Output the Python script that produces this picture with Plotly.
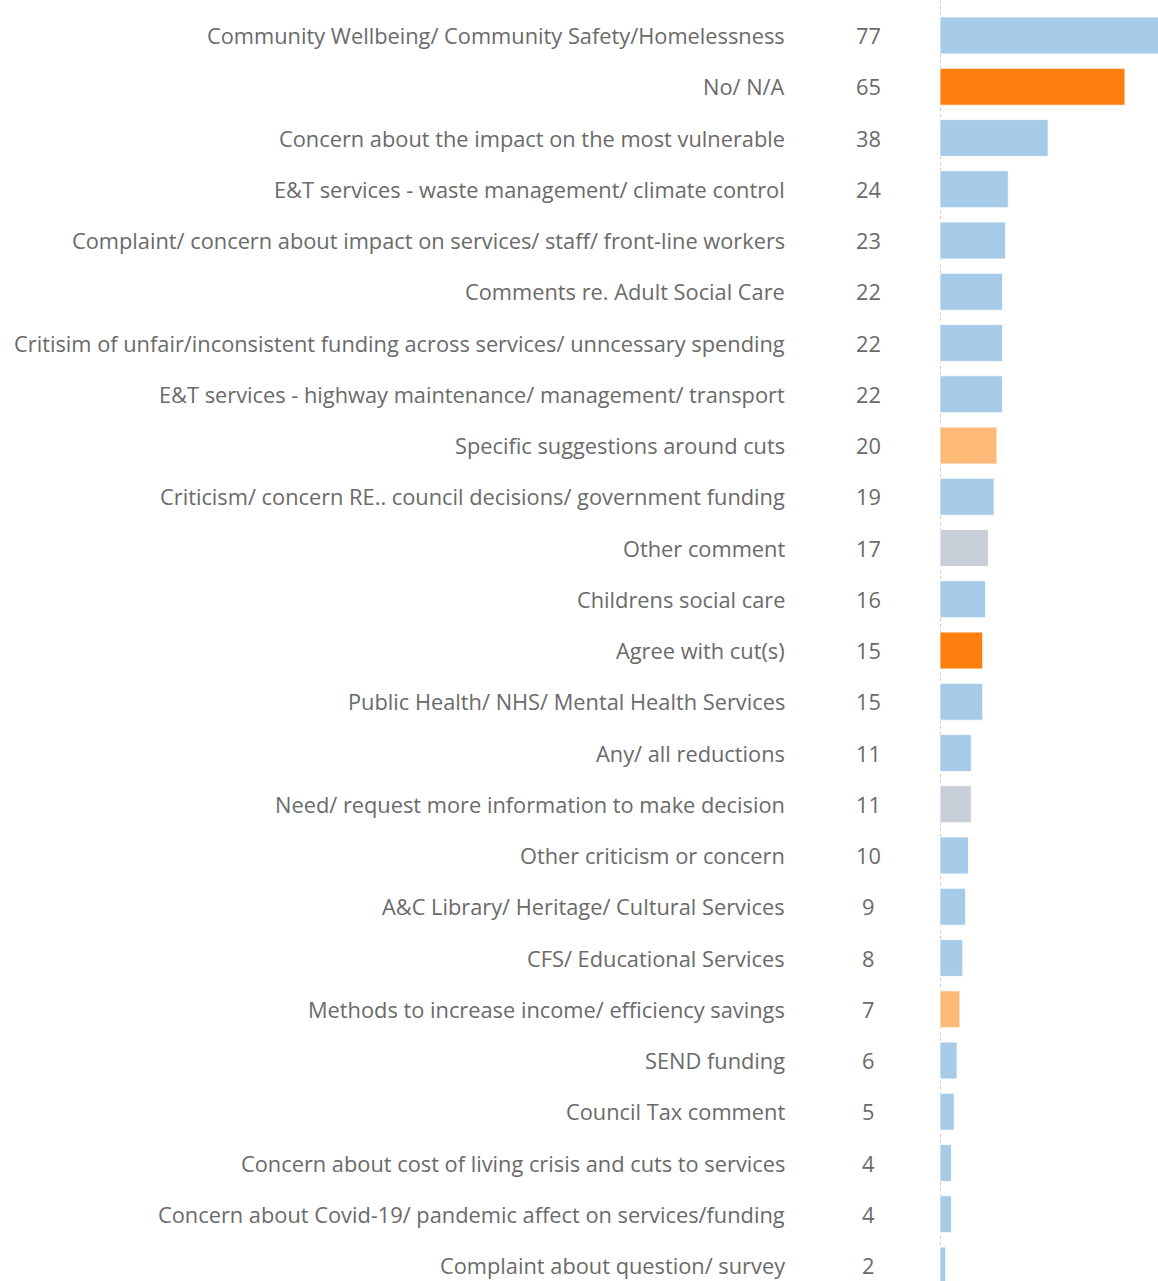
import plotly.graph_objects as go

categories = [
    "Community Wellbeing/ Community Safety/Homelessness",
    "No/ N/A",
    "Concern about the impact on the most vulnerable",
    "E&T services - waste management/ climate control",
    "Complaint/ concern about impact on services/ staff/ front-line workers",
    "Comments re. Adult Social Care",
    "Critisim of unfair/inconsistent funding across services/ unncessary spending",
    "E&T services - highway maintenance/ management/ transport",
    "Specific suggestions around cuts",
    "Criticism/ concern RE.. council decisions/ government funding",
    "Other comment",
    "Childrens social care",
    "Agree with cut(s)",
    "Public Health/ NHS/ Mental Health Services",
    "Any/ all reductions",
    "Need/ request more information to make decision",
    "Other criticism or concern",
    "A&C Library/ Heritage/ Cultural Services",
    "CFS/ Educational Services",
    "Methods to increase income/ efficiency savings",
    "SEND funding",
    "Council Tax comment",
    "Concern about cost of living crisis and cuts to services",
    "Concern about Covid-19/ pandemic affect on services/funding",
    "Complaint about question/ survey",
]
values = [77, 65, 38, 24, 23, 22, 22, 22, 20, 19, 17, 16, 15, 15, 11, 11, 10, 9, 8, 7, 6, 5, 4, 4, 2]
groups = ["concern", "no", "concern", "concern", "concern", "concern", "concern", "concern",
          "suggest", "concern", "other", "concern", "no", "concern", "concern", "other",
          "concern", "concern", "concern", "suggest", "concern", "concern", "concern",
          "concern", "concern"]

color_map = {"concern": "#a5cbe8", "no": "#fd7f10", "suggest": "#fdb978", "other": "#c8cfd9"}
colors = [color_map[g] for g in groups]
positions = list(range(len(categories)))

W, H = 1158, 1281
x0_px = 940
px_per_unit = 2.845
xmax = (W - x0_px) / px_per_unit

row_pitch = 51.25
first_center = 35.5
y_top = -first_center / row_pitch
y_bot = (H - first_center) / row_pitch

fig = go.Figure()
fig.add_trace(go.Bar(
    x=values, y=positions, orientation="h",
    marker=dict(color=colors, line=dict(color="rgba(255,255,255,0.8)", width=1)),
    width=0.72, hoverinfo="skip",
))

text_color = "#6a6a6a"
font_family = "Open Sans, Lato, sans-serif"
label_x = 787 / W
num_x = 868 / W
for p, c, v in zip(positions, categories, values):
    fig.add_annotation(x=label_x, xref="paper", y=p, yref="y", text=c.replace("&", "&amp;"),
                       showarrow=False, xanchor="right", yanchor="middle",
                       font=dict(size=21.8, color=text_color, family=font_family))
    fig.add_annotation(x=num_x, xref="paper", y=p, yref="y", text=str(v),
                       showarrow=False, xanchor="center", yanchor="middle",
                       font=dict(size=21.8, color=text_color, family=font_family))

fig.add_shape(type="line", x0=0, x1=0, xref="x", y0=0, y1=1, yref="paper",
              line=dict(color="#bbbbbb", width=1.5, dash="dot"), layer="below")

fig.update_layout(
    width=W, height=H,
    margin=dict(l=0, r=0, t=0, b=0),
    paper_bgcolor="white", plot_bgcolor="white",
    showlegend=False,
    xaxis=dict(domain=[x0_px / W, 1], range=[0, xmax], visible=False, fixedrange=True),
    yaxis=dict(range=[y_bot, y_top], visible=False, fixedrange=True),
    bargap=0.28,
)

fig.write_html(
    "out.html",
    config={"displayModeBar": False},
    post_script="document.body.style.margin='0';document.body.style.overflow='hidden';",
)
